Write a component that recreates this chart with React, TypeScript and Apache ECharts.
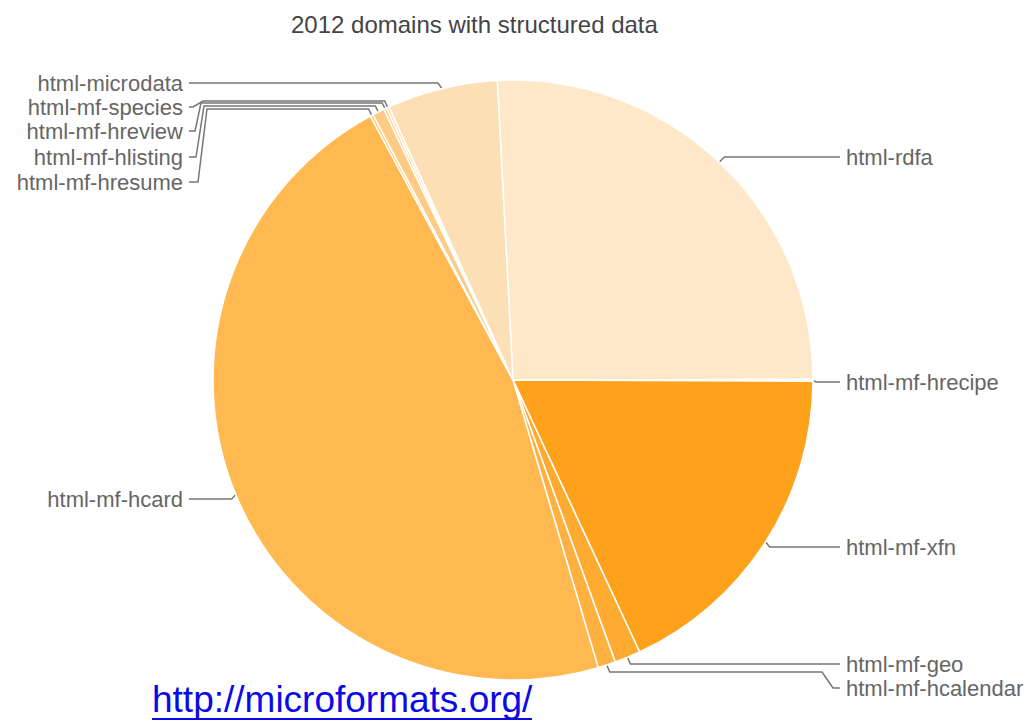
import React, { useEffect, useRef } from 'react';
import * as echarts from 'echarts';

// Share of domains (%), clockwise from the top
const categories = [
  'html-rdfa',
  'html-mf-hrecipe',
  'html-mf-xfn',
  'html-mf-geo',
  'html-mf-hcalendar',
  'html-mf-hcard',
  'html-mf-hresume',
  'html-mf-hlisting',
  'html-mf-hreview',
  'html-mf-species',
  'html-microdata',
];
const shares = [25.8, 0.1, 18.0, 1.4, 0.95, 46.7, 0.15, 0.65, 0.15, 0.15, 5.95];
const sliceColors = [
  '#FEE8C9', '#FEC779', '#FFA21B', '#FFAA30', '#FFB13F', '#FFB950',
  '#FFC060', '#FDCB86', '#FED08E', '#FED9A4', '#FDDFB6',
];

const titleText = '2012 domains with structured data';
const sourceText = 'http://microformats.org/';

// label placement (style/layout only)
type Leader = { side: 'left' | 'right'; y: number; stub: number; bend?: number; via: number[][] };
const leaders: Leader[] = [
  { side: 'right', y: 157, stub: 5, via: [] },
  { side: 'right', y: 382, stub: 3, via: [] },
  { side: 'right', y: 547, stub: 4, via: [] },
  { side: 'right', y: 664, stub: 3, via: [] },
  { side: 'right', y: 688, stub: 3, bend: 672, via: [[822, 672], [833, 688]] },
  { side: 'left', y: 499, stub: 4, via: [] },
  { side: 'left', y: 182, stub: 3, bend: 109, via: [[207, 109], [198, 182]] },
  { side: 'left', y: 157, stub: 3, bend: 106, via: [[204, 106], [196, 157]] },
  { side: 'left', y: 131, stub: 3, bend: 103, via: [[201, 103], [195, 131]] },
  { side: 'left', y: 107, stub: 3, bend: 101, via: [[203, 101], [193, 107]] },
  { side: 'left', y: 83, stub: 4, via: [] },
];
const RIGHT_LINE_END = 840;
const RIGHT_TEXT_X = 846;
const LEFT_LINE_END = 189;
const LEFT_TEXT_X = 183;

const FONT = '"Liberation Sans", Arial, Helvetica, sans-serif';

export default function App() {
  const ref = useRef<HTMLDivElement>(null);

  useEffect(() => {
    document.body.style.margin = '0';
    if (!ref.current) return;
    const chart = echarts.init(ref.current, undefined, { renderer: 'svg' });

    const data = categories.map((name, i) => ({
      name,
      value: shares[i],
      itemStyle: { color: sliceColors[i] },
    }));

    chart.setOption({
      animation: false,
      backgroundColor: '#ffffff',
      textStyle: { fontFamily: FONT },
      title: {
        text: titleText,
        left: 286,
        top: 7,
        textStyle: { fontSize: 24, fontWeight: 'normal', color: '#444', fontFamily: FONT },
      },
      graphic: [
        {
          type: 'text',
          left: 152,
          top: 681,
          style: { text: sourceText, fill: '#0A0AE6', font: `37px ${FONT}` },
        },
        {
          type: 'rect',
          left: 152,
          top: 718,
          shape: { width: 380, height: 2 },
          style: { fill: '#0A0AE6' },
        },
      ],
      series: [
        {
          type: 'pie',
          center: [513, 380],
          radius: 300,
          startAngle: 93,
          clockwise: true,
          avoidLabelOverlap: false,
          minShowLabelAngle: 0,
          itemStyle: { borderColor: '#ffffff', borderWidth: 1.5 },
          emphasis: { disabled: true },
          label: {
            show: true,
            position: 'outside',
            fontSize: 22,
            color: '#666',
            fontFamily: FONT,
          },
          labelLine: {
            show: true,
            length: 10,
            length2: 10,
            smooth: false,
            lineStyle: { color: '#777', width: 1.5 },
          },
          labelLayout: (params: any) => {
            const cfg = leaders[params.dataIndex];
            const pts = params.labelLinePoints;
            if (!cfg || !pts) return {};
            const p0 = pts[0];
            const isRight = cfg.side === 'right';
            const sx = isRight ? p0[0] + cfg.stub : p0[0] - cfg.stub;
            const line = [
              [p0[0], p0[1]],
              [sx, cfg.bend !== undefined ? cfg.bend : cfg.y],
              ...cfg.via,
              [isRight ? RIGHT_LINE_END : LEFT_LINE_END, cfg.y],
            ];
            return {
              x: isRight ? RIGHT_TEXT_X : LEFT_TEXT_X,
              y: cfg.y,
              align: isRight ? 'left' : 'right',
              verticalAlign: 'middle',
              labelLinePoints: line,
            };
          },
          data,
        },
      ],
    });

    return () => chart.dispose();
  }, []);

  return <div ref={ref} style={{ width: 1031, height: 722 }} />;
}
